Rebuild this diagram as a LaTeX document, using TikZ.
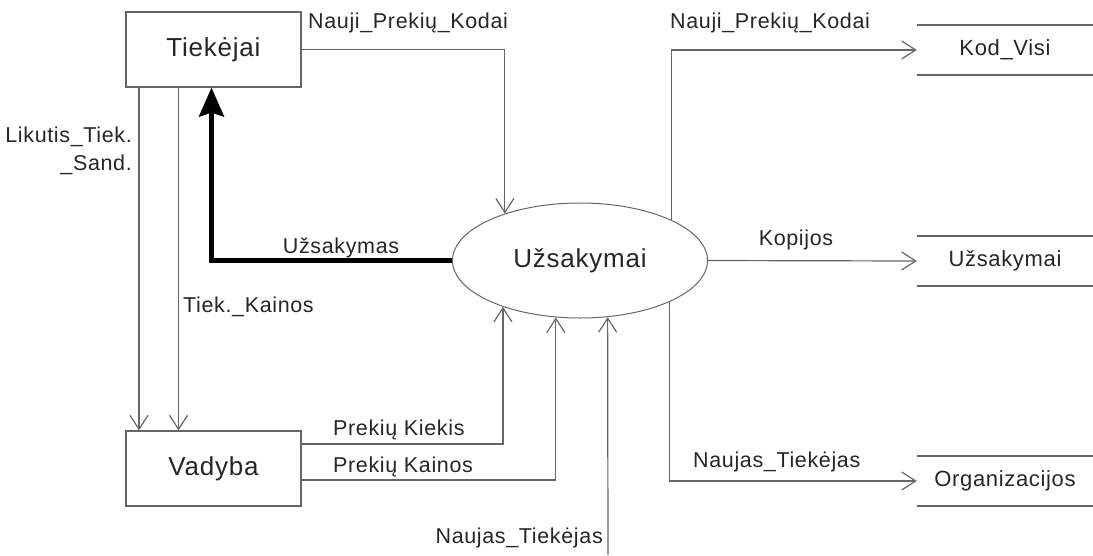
\documentclass[tikz,border=0pt]{standalone}
\usepackage{fontspec}
\setmainfont{Liberation Sans}[LetterSpace=3]
\usetikzlibrary{arrows.meta,shapes.geometric}

\tikzset{
  proc/.style={draw=black!60, line width=1.2pt, minimum width=175pt, minimum height=75pt,
    font=\fontsize{26}{30}\selectfont, text=black!85},
  bubble/.style={ellipse, draw=black!60, line width=1pt, minimum width=255pt, minimum height=115pt,
    inner sep=0pt, font=\fontsize{26}{30}\selectfont, text=black!85},
  store/.style={minimum width=176pt, minimum height=50pt, inner sep=0pt,
    font=\fontsize{22}{26}\selectfont, text=black!85},
  dbline/.style={draw=black!60, line width=1.5pt},
  lbl/.style={inner sep=0pt, font=\fontsize{21.5}{28}\selectfont, text=black!85},
  flow/.style={draw=black!60, line width=1.2pt, -{Straight Barb[length=14pt,width=18pt]}},
  orderflow/.style={draw=black, line width=4.5pt, -{Stealth[length=29pt,width=25pt,inset=4pt]}}
}

\begin{document}
\begin{tikzpicture}[x=1pt,y=-1pt]
  \useasboundingbox (0,0) rectangle (1093,555);
  % two boxes, one bubble
  \node[proc] (tiek) at (213.5,49.5) {Tiekėjai};
  \node[proc] (vad) at (213.5,468.5) {Vadyba};
  \node[bubble] (uzs) at (580,260.5) {Užsakymai};
  % three stores
  \node[store] (kod) at (1005,50) {Kod\_Visi};
  \node[store] (uzsdb) at (1005,261) {Užsakymai};
  \node[store] (org) at (1005,481) {Organizacijos};
  \foreach \s in {kod,uzsdb,org}
    \draw[dbline] (\s.north west) -- (\s.north east) (\s.south west) -- (\s.south east);
  \coordinate (bottomin) at (608,555);

  % flows on the left
  \draw[flow] (tiek.east) -| (uzs.148.5);
  \draw[flow] ([xshift=-74.5pt]tiek.south) -- ([xshift=-74.5pt]vad.north);
  \draw[flow] ([xshift=-35pt]tiek.south) -- ([xshift=-35pt]vad.north);
  \draw[orderflow] (uzs.west) -| ([xshift=-2pt]tiek.south);
  \draw[flow] ([yshift=24.5pt]vad.east) -| (uzs.211.7);
  \draw[flow] ([yshift=-11.5pt]vad.east) -| (uzs.247.9);
  \draw[flow] (bottomin) -- (uzs.296.5);
  % flows on the right
  \draw[flow] (uzs.24.8) |- (kod.west);
  \draw[flow] (uzs.east) -- (uzsdb.west);
  \draw[flow] (uzs.335.2) |- (org.west);

  % labels
  \node[lbl, anchor=west] (npk1) at (308,23) {Nauji\_Prekių\_Kodai};
  \node[lbl, anchor=east, align=right] (lik) at (132,151) {Likutis\_Tiek.\\\_Sand.};
  \node[lbl, anchor=west] (tkain) at (183,307) {Tiek.\_Kainos};
  \node[lbl] (uzsl) at (341,248) {Užsakymas};
  \node[lbl, anchor=west] (pkiek) at (333,430) {Prekių Kiekis};
  \node[lbl, anchor=west] (pkain) at (333,467) {Prekių Kainos};
  \node[lbl, anchor=east] (ntiek1) at (603,538) {Naujas\_Tiekėjas};
  \node[lbl, anchor=west] (npk2) at (670,23) {Nauji\_Prekių\_Kodai};
  \node[lbl] (kop) at (796,240) {Kopijos};
  \node[lbl, anchor=west] (ntiek2) at (693,462) {Naujas\_Tiekėjas};
\end{tikzpicture}
\end{document}
